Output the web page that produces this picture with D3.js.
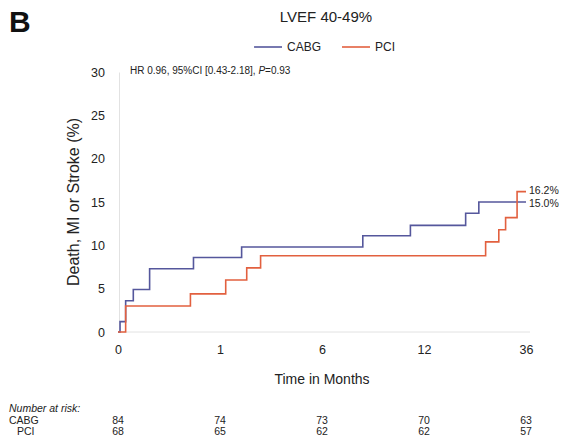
<!DOCTYPE html>
<html><head><meta charset="utf-8">
<script src="https://cdn.jsdelivr.net/npm/d3@7"></script>
<style>body{margin:0;background:#fff;font-family:"Liberation Sans",Arial,sans-serif}</style>
</head><body><svg id="c" width="565" height="445"></svg>
<script>
const xTicks = [0, 1, 6, 12, 36];
const yTicks = [0, 5, 10, 15, 20, 25, 30];
// step times (months) and cumulative event rate (%)
const cabgTimes  = [0, 0.02, 0.075, 0.15, 0.31, 0.74, 2.06, 8.4, 11.2, 21.8, 24.9, 36];
const cabgValues = [0, 1.2, 3.6, 4.9, 7.3, 8.6, 9.8, 11.1, 12.3, 13.7, 15.0, 15.0];
const pciTimes   = [0, 0.075, 0.71, 1.28, 2.31, 2.99, 26.5, 29.6, 31.2, 33.9, 36];
const pciValues  = [0, 3.0, 4.4, 6.0, 7.4, 8.8, 10.4, 11.8, 13.2, 16.2, 16.2];
const riskGroups = ["CABG", "PCI"];
const riskCABG = [84, 74, 73, 70, 63];
const riskPCI  = [68, 65, 62, 62, 57];
const colors = {CABG: "#55579c", PCI: "#e2603f"};

const svg = d3.select("#c");
const x = d3.scaleLinear().domain(xTicks).range([118, 220, 322, 424, 526]);
const y = d3.scaleLinear().domain([0, 30]).range([332, 72]);

// axes
const gx = svg.append("g").attr("transform", "translate(0,332)")
  .call(d3.axisBottom(x).tickValues(xTicks).tickSize(0).tickPadding(13).tickFormat(d3.format("d")));
gx.select(".domain").attr("stroke", "#e2e2e2").attr("d", "M118,0H530");
gx.selectAll("text").attr("font-size", 12.5).attr("fill", "#222").attr("font-family", "Liberation Sans, Arial");
const gy = svg.append("g").attr("transform", "translate(119,0)")
  .call(d3.axisLeft(y).tickValues(yTicks).tickSize(0).tickPadding(14));
gy.select(".domain").attr("stroke", "#e2e2e2");
gy.selectAll("text").attr("font-size", 12.5).attr("fill", "#222").attr("font-family", "Liberation Sans, Arial");

const line = d3.line().curve(d3.curveStepAfter).x(d => x(d[0])).y(d => y(d[1]));
svg.append("path").datum(cabgTimes.map((t, i) => [t, cabgValues[i]]))
  .attr("d", line).attr("fill", "none").attr("stroke", colors.CABG).attr("stroke-width", 1.6);
svg.append("path").datum(pciTimes.map((t, i) => [t, pciValues[i]]))
  .attr("d", line).attr("fill", "none").attr("stroke", colors.PCI).attr("stroke-width", 1.6);

// end labels
svg.append("text").attr("x", x(36) + 3).attr("y", y(pciValues[pciValues.length-1]) + 2)
  .attr("font-size", 10.5).attr("fill", "#222").text(d3.format(".1f")(pciValues[pciValues.length-1]) + "%");
svg.append("text").attr("x", x(36) + 3).attr("y", y(cabgValues[cabgValues.length-1]) + 5)
  .attr("font-size", 10.5).attr("fill", "#222").text(d3.format(".1f")(cabgValues[cabgValues.length-1]) + "%");

// panel letter and title
svg.append("text").attr("x", 9).attr("y", 32).attr("font-size", 30).attr("font-weight", "bold").attr("fill", "#111").text("B");
svg.append("text").attr("x", 326).attr("y", 22).attr("text-anchor", "middle").attr("font-size", 15).attr("fill", "#222").text("LVEF 40-49%");

// legend
const leg = [{k: "CABG", x: 254}, {k: "PCI", x: 342}];
leg.forEach(l => {
  svg.append("line").attr("x1", l.x).attr("x2", l.x + 28).attr("y1", 47).attr("y2", 47)
    .attr("stroke", colors[l.k]).attr("stroke-width", 1.6);
  svg.append("text").attr("x", l.x + 33).attr("y", 51).attr("font-size", 12).attr("fill", "#222").text(l.k);
});

// HR annotation
const hr = svg.append("text").attr("x", 130).attr("y", 74).attr("font-size", 10).attr("fill", "#222");
hr.append("tspan").text("HR 0.96, 95%CI [0.43-2.18], ");
hr.append("tspan").attr("font-style", "italic").text("P");
hr.append("tspan").text("=0.93");

// axis titles
svg.append("text").attr("transform", "translate(79,202) rotate(-90)").attr("text-anchor", "middle")
  .attr("font-size", 16).attr("fill", "#222").text("Death, MI or Stroke (%)");
svg.append("text").attr("x", 322).attr("y", 384).attr("text-anchor", "middle")
  .attr("font-size", 14).attr("fill", "#222").text("Time in Months");

// number at risk
svg.append("text").attr("x", 9).attr("y", 412).attr("font-size", 10.5).attr("font-style", "italic").attr("fill", "#222").text("Number at risk:");
[[riskCABG, 424, 9], [riskPCI, 435, 17]].forEach(([vals, yy, lx], gi) => {
  svg.append("text").attr("x", lx).attr("y", yy).attr("font-size", 10.5).attr("fill", "#222").text(riskGroups[gi]);
  vals.forEach((v, i) => {
    svg.append("text").attr("x", x(xTicks[i])).attr("y", yy).attr("text-anchor", "middle")
      .attr("font-size", 10.5).attr("fill", "#222").text(v);
  });
});
</script></body></html>
